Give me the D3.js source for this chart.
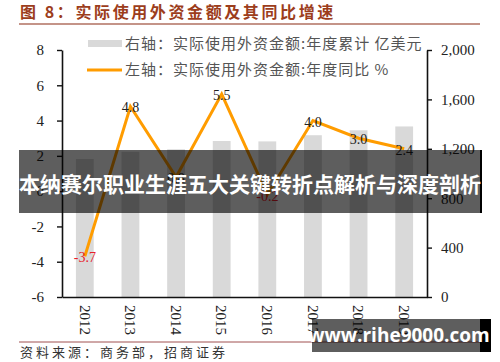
<!DOCTYPE html>
<html><head><meta charset="utf-8">
<script src="https://cdn.jsdelivr.net/npm/d3@7"></script>
<style>
body{margin:0;background:#fff;}
svg{display:block;}
</style></head>
<body>
<svg id="c" width="500" height="362"></svg>
<script>
const years = ["2012","2013","2014","2015","2016","2017","2018","2019"];
const amount = [1117, 1176, 1196, 1263, 1260, 1310, 1350, 1381];
const growth = [-3.7, 4.8, 0.8, 5.5, -0.2, 4.0, 3.0, 2.4];
const growthLabels = ["-3.7","4.8","0.8","5.5","-0.2","4.0","3.0","2.4"];
const leftTicks = [-6,-4,-2,0,2,4,6,8];
const rightTicks = [0,400,800,1200,1600,2000];
const title = "图 8：实际使用外资金额及其同比增速";
const legendBar = "右轴：实际使用外资金额:年度累计 亿美元";
const legendLine = "左轴：实际使用外资金额:年度同比 %";
const source = "资料来源：商务部，招商证券";
const banner = "本纳赛尔职业生涯五大关键转折点解析与深度剖析";
const watermark = "www.rihe9000.com";

const svg = d3.select("#c");
const serif = "'Liberation Serif','DejaVu Serif',serif";
const cjk = "'Noto Sans CJK SC','Noto Sans',sans-serif";
const orange = "#ff9c00", grey = "#d9d9d9", brown = "#9c3d1c";

// title
svg.append("text").attr("x",20).attr("y",18).attr("fill",brown)
  .attr("font-family",cjk).attr("font-weight","bold").attr("font-size",16)
  .attr("letter-spacing",2.6).text(title);
svg.append("line").attr("x1",19).attr("x2",480).attr("y1",24).attr("y2",24)
  .attr("stroke","#b07060").attr("stroke-width",1.5);

const x = d3.scaleBand().domain(years).range([62,427]).paddingInner(0.61).paddingOuter(0.305);
const yL = d3.scaleLinear().domain([-6,8]).range([297,50]);
const yR = d3.scaleLinear().domain([0,2000]).range([297,50]);

// bars
svg.append("g").selectAll("rect").data(years).join("rect")
  .attr("x",d=>x(d)).attr("width",x.bandwidth())
  .attr("y",(d,i)=>yR(amount[i])).attr("height",(d,i)=>yR(0)-yR(amount[i]))
  .attr("fill",grey);

// line
const line = d3.line().x((d,i)=>x(years[i])+x.bandwidth()/2).y(d=>yL(d));
svg.append("path").datum(growth).attr("d",line).attr("fill","none")
  .attr("stroke",orange).attr("stroke-width",3).attr("stroke-linejoin","miter");

// labels
svg.append("g").selectAll("text").data(growth).join("text")
  .attr("x",(d,i)=>x(years[i])+x.bandwidth()/2)
  .attr("y",d=>yL(d)+6)
  .attr("text-anchor","middle").attr("font-family",serif).attr("font-size",14)
  .attr("fill",d=>d<0?"#e8202a":"#222")
  .text((d,i)=>growthLabels[i]);

// axes
const gL = svg.append("g").attr("transform","translate(62,0)")
  .call(d3.axisLeft(yL).tickValues(leftTicks).tickSize(5).tickSizeOuter(0).tickPadding(13)
    .tickFormat(d=>String(d)));
const gR = svg.append("g").attr("transform","translate(427,0)")
  .call(d3.axisRight(yR).tickValues(rightTicks).tickSize(5).tickSizeOuter(0).tickPadding(9)
    .tickFormat(d=>d3.format(",")(d)));
const gB = svg.append("g").attr("transform","translate(0,297)")
  .call(d3.axisBottom(x).tickSize(0).tickSizeOuter(0).tickPadding(0));
[gL,gR,gB].forEach(g=>{
  g.selectAll("path.domain").attr("stroke","#111").attr("stroke-width",1.6);
  g.selectAll("line").attr("stroke","#111").attr("stroke-width",1.4);
  g.selectAll("text").attr("font-family",serif).attr("font-size",15).attr("fill","#222");
});
gB.selectAll("text").attr("transform","rotate(90)").attr("text-anchor","start")
  .attr("x",8).attr("y",0).attr("dy","0.35em");

// legend
svg.append("rect").attr("x",88).attr("y",40).attr("width",34).attr("height",7).attr("fill",grey);
svg.append("text").attr("x",125).attr("y",49).attr("font-family",cjk).attr("font-size",15)
  .attr("letter-spacing",1).attr("fill","#555").text(legendBar);
svg.append("line").attr("x1",87).attr("x2",122).attr("y1",70).attr("y2",70)
  .attr("stroke",orange).attr("stroke-width",3);
svg.append("text").attr("x",125).attr("y",75).attr("font-family",cjk).attr("font-size",15)
  .attr("letter-spacing",1).attr("fill","#555").text(legendLine);

// source
svg.append("line").attr("x1",19).attr("x2",480).attr("y1",342).attr("y2",342)
  .attr("stroke","#a05050").attr("stroke-width",1);
svg.append("text").attr("x",20).attr("y",357).attr("font-family",cjk).attr("font-size",13)
  .attr("letter-spacing",3).attr("fill","#333").text(source);

// overlay banner
svg.append("rect").attr("x",19).attr("y",150).attr("width",461).attr("height",63)
  .attr("fill","rgba(0,0,0,0.63)");
svg.append("rect").attr("x",480).attr("y",150).attr("width",2).attr("height",63).attr("fill","#000");
svg.append("text").attr("x",250).attr("y",192).attr("text-anchor","middle")
  .attr("font-family",cjk).attr("font-weight","bold").attr("font-size",21)
  .attr("fill","#fff").text(banner);

// watermark
svg.append("rect").attr("x",312).attr("y",319).attr("width",168).attr("height",33)
  .attr("fill","rgba(0,0,0,0.63)");
svg.append("rect").attr("x",480).attr("y",319).attr("width",11).attr("height",33).attr("fill","#000");
svg.append("text").attr("x",399).attr("y",342).attr("text-anchor","middle")
  .attr("font-family","'Open Sans','DejaVu Sans',sans-serif").attr("font-weight","bold").attr("font-size",19)
  .attr("fill","#fff").text(watermark);
</script>
</body></html>
